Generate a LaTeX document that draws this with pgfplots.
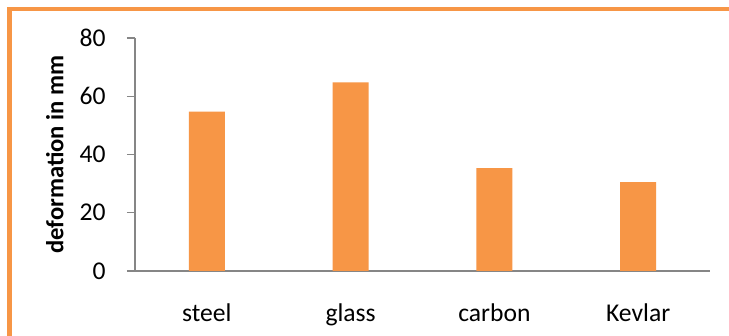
\documentclass[border=0pt]{standalone}
\usepackage{fontspec}
\setmainfont{Carlito}
\usepackage{pgfplots}
\pgfplotsset{compat=1.18}
\definecolor{barorange}{HTML}{F79646}
\definecolor{axisgray}{HTML}{868686}
\begin{document}
\begin{tikzpicture}
% page area and orange frame on the top and left edges
\path[use as bounding box] (0,0) rectangle (364.5pt,168pt);
\fill[white] (0,0) rectangle (364.5pt,168pt);
\fill[barorange] (3.65pt,0) rectangle (6.15pt,164.35pt);
\fill[barorange] (3.65pt,162.65pt) rectangle (364.5pt,164.35pt);
\begin{axis}[
  at={(67.5pt,32.5pt)}, anchor=south west,
  scale only axis, width=287.5pt, height=116.5pt,
  xmin=-0.5, xmax=3.5, ymin=0, ymax=80,
  axis lines*=left,
  axis line style={axisgray, line width=0.75pt},
  ytick={0,20,40,60,80},
  xtick=data,
  xticklabels={steel, glass, carbon, Kevlar},
  tick align=outside,
  major tick length=4pt,
  x tick style={draw=none},
  y tick style={axisgray, line width=0.75pt},
  /pgf/number format/assume math mode=true,
  tick label style={font=\fontsize{12.8}{15}\selectfont, text=black},
  yticklabel style={anchor=east, inner sep=0pt, xshift=-10.5pt},
  xticklabel style={anchor=base, inner sep=0pt, yshift=-21.5pt},
  every axis y label/.style={at={(axis description cs:-0.1247,0.5)}, rotate=90, anchor=base, inner sep=0pt},
  ylabel={\fontsize{12.3}{15}\selectfont\bfseries deformation in mm},
  ybar, bar width=18pt,
]
\addplot[fill=barorange, draw=none] coordinates {(0,54.7) (1,64.8) (2,35.3) (3,30.5)};
\end{axis}
\end{tikzpicture}
\end{document}
